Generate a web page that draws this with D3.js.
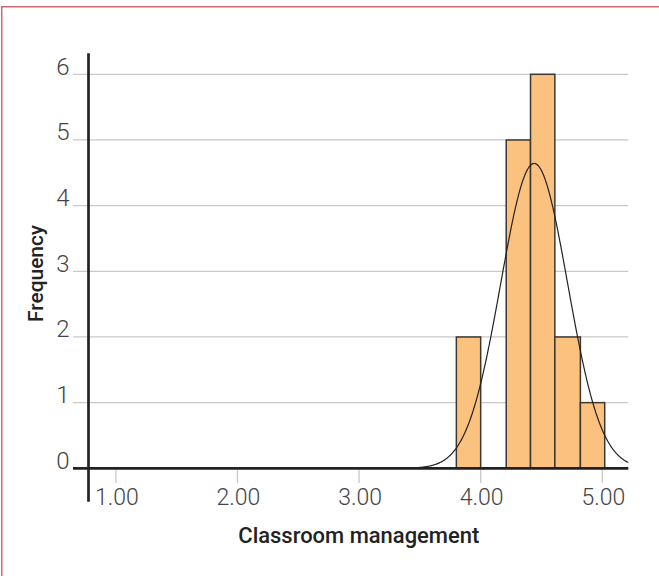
<!DOCTYPE html>
<html>
<head>
<meta charset="utf-8">
<script src="https://cdn.jsdelivr.net/npm/d3@7"></script>
<style>
  html, body { margin: 0; padding: 0; background: #fff; }
  svg { display: block; }
</style>
</head>
<body>
<svg id="chart" width="659" height="576"></svg>
<script>
// Histogram of classroom management scores with fitted normal curve
const binEdges = [3.80, 4.00, 4.21, 4.41, 4.61, 4.82, 5.02];
const frequencies = [2, 0, 5, 6, 2, 1];
const xTicks = [1, 2, 3, 4, 5];
const yTicks = [0, 1, 2, 3, 4, 5, 6];
const xTitle = "Classroom management";
const yTitle = "Frequency";

// Normal fit parameters
const n = 16;
const mean = 4.44;
const sd = 0.275;
const binWidth = 0.2;

const svg = d3.select("#chart");
const tickFont = "Roboto, 'Liberation Sans', Arial, sans-serif";

// frame
svg.append("rect")
  .attr("x", 1.75).attr("y", 6.75)
  .attr("width", 720).attr("height", 620)
  .attr("fill", "none")
  .attr("stroke", "#cf6a72")
  .attr("stroke-width", 1.5);

const plotLeft = 88.5, plotRight = 628.3;
const x = d3.scaleLinear().domain([0.775, 5.214]).range([plotLeft, plotRight]);
const y = d3.scaleLinear().domain([0, 6]).range([468.3, 74.3]);

const gridLeft = 73;

// horizontal gridlines
svg.append("g").selectAll("line")
  .data(yTicks.filter(d => d > 0))
  .join("line")
  .attr("x1", gridLeft).attr("x2", plotRight)
  .attr("y1", d => y(d)).attr("y2", d => y(d))
  .attr("stroke", "#c9c9c9")
  .attr("stroke-width", 1.3);

// y tick labels
svg.append("g").selectAll("text")
  .data(yTicks)
  .join("text")
  .attr("x", 69.5)
  .attr("y", d => y(d) + 0.5)
  .attr("text-anchor", "end")
  .style("font-family", tickFont)
  .style("font-size", "24px")
  .style("font-weight", 300)
  .attr("fill", "#444")
  .text(d => d);

// x tick marks
svg.append("g").selectAll("line")
  .data(xTicks)
  .join("line")
  .attr("x1", d => x(d)).attr("x2", d => x(d))
  .attr("y1", 469.5).attr("y2", 483)
  .attr("stroke", "#c9c9c9")
  .attr("stroke-width", 1.3);

// x tick labels
svg.append("g").selectAll("text")
  .data(xTicks)
  .join("text")
  .attr("x", d => x(d) + 1)
  .attr("y", 505)
  .attr("text-anchor", "middle")
  .style("font-family", tickFont)
  .style("font-size", "23px")
  .style("font-weight", 300)
  .attr("fill", "#444")
  .text(d => d3.format(".2f")(d));

// bars
const bins = frequencies.map((f, i) => ({ x0: binEdges[i], x1: binEdges[i + 1], f }));
svg.append("g").selectAll("rect")
  .data(bins.filter(b => b.f > 0))
  .join("rect")
  .attr("x", d => x(d.x0))
  .attr("width", d => x(d.x1) - x(d.x0))
  .attr("y", d => y(d.f))
  .attr("height", d => y(0) - y(d.f))
  .attr("fill", "#fbc17f")
  .attr("stroke", "#3c3833")
  .attr("stroke-width", 1.5);

// fitted normal curve
svg.append("clipPath").attr("id", "plotClip")
  .append("rect")
  .attr("x", plotLeft).attr("y", 40)
  .attr("width", plotRight - plotLeft).attr("height", 440);

const pdf = v => Math.exp(-0.5 * ((v - mean) / sd) ** 2) / (sd * Math.sqrt(2 * Math.PI));
const curvePts = d3.range(0.775, 5.25, 0.005).map(v => [v, n * binWidth * pdf(v)]);
svg.append("path")
  .datum(curvePts)
  .attr("clip-path", "url(#plotClip)")
  .attr("fill", "none")
  .attr("stroke", "#222")
  .attr("stroke-width", 1.2)
  .attr("d", d3.line().x(d => x(d[0])).y(d => y(d[1])));

// axes lines
svg.append("line")
  .attr("x1", gridLeft).attr("x2", plotRight)
  .attr("y1", y(0)).attr("y2", y(0))
  .attr("stroke", "#222").attr("stroke-width", 2.7);
svg.append("line")
  .attr("x1", plotLeft).attr("x2", plotLeft)
  .attr("y1", 53.3).attr("y2", 501.7)
  .attr("stroke", "#222").attr("stroke-width", 2.7);

// axis titles
svg.append("text")
  .attr("x", 358.8).attr("y", 543)
  .attr("text-anchor", "middle")
  .style("font-family", "Roboto, 'Liberation Sans', Arial, sans-serif")
  .style("font-size", "22px")
  .style("font-weight", 500)
  .attr("fill", "#222")
  .attr("textLength", 241)
  .attr("lengthAdjust", "spacingAndGlyphs")
  .text(xTitle);

svg.append("text")
  .attr("transform", "translate(43,273.4) rotate(-90)")
  .attr("text-anchor", "middle")
  .style("font-family", "Roboto, 'Liberation Sans', Arial, sans-serif")
  .style("font-size", "20.5px")
  .style("font-weight", 500)
  .attr("fill", "#222")
  .attr("textLength", 97)
  .attr("lengthAdjust", "spacingAndGlyphs")
  .text(yTitle);
</script>
</body>
</html>
